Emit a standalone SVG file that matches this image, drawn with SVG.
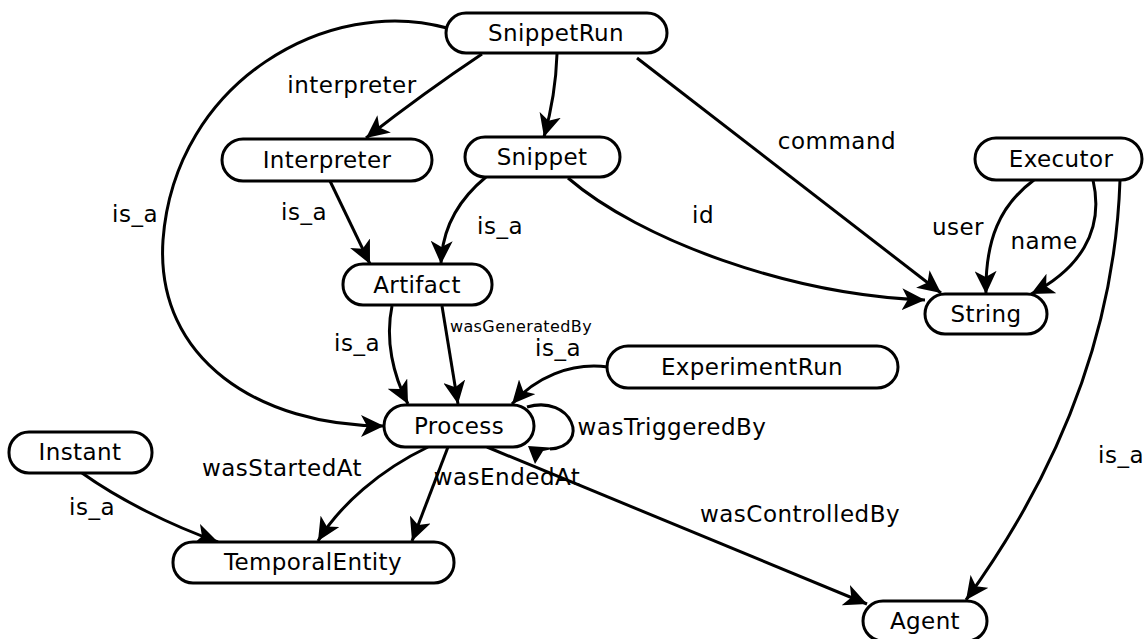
<svg xmlns="http://www.w3.org/2000/svg" width="1144" height="639" viewBox="0 0 1144 639">
  <style>
    .node rect { fill: #ffffff; stroke: #000000; stroke-width: 3; }
    .node text { font-family: "DejaVu Sans", sans-serif; font-size: 23px; letter-spacing: 0.4px; fill: #000000; text-anchor: middle; dominant-baseline: central; }
    .edges path { fill: none; stroke: #000000; stroke-width: 3; marker-end: url(#arrow); }
    .edges path.loop { marker-end: none; }
    .edges path.head { fill: #000000; stroke: none; marker-end: none; }
    .lbl { font-family: "DejaVu Sans", sans-serif; font-size: 23px; letter-spacing: 0.5px; fill: #000000; text-anchor: middle; dominant-baseline: central; }
    .small { font-size: 16px; letter-spacing: 0.4px; }
  </style>
  <defs>
    <marker id="arrow" markerUnits="userSpaceOnUse" markerWidth="24" markerHeight="22" refX="23" refY="11" orient="auto">
      <path d="M0,0 L23,11 L0,22 L6,11 z" fill="#000000"/>
    </marker>
  </defs>
  <rect width="1144" height="639" fill="#ffffff"/>

  <g class="edges">
    <path d="M482,54 Q425,92 366,138"/>
    <path d="M557,54 C556,85 551,112 544,137"/>
    <path d="M637,58 L941,293"/>
    <path d="M447,28 C330,-5 175,80 163,240 C155,360 260,426 384,426"/>
    <path d="M330,181 L370,264"/>
    <path d="M486,177 C458,200 442,230 441,264"/>
    <path d="M568,178 C640,240 790,295 925,300"/>
    <path d="M1034,180 C1000,205 985,240 986,294"/>
    <path d="M1093,180 C1105,232 1078,270 1031,294"/>
    <path d="M1120,180 C1115,330 1060,470 966,600"/>
    <path d="M392,306 C385,340 393,375 408,404"/>
    <path d="M442,306 L458,404"/>
    <path d="M608,367 C570,362 535,378 512,404"/>
    <!-- self loop on Process with its head drawn at the lower rim -->
    <path class="loop" d="M527,407 C572,394 592,446 550,449"/>
    <path class="head" d="M528,446 L557,448 L543,451 L535,464 z"/>
    <path d="M428,447 C380,470 340,505 318,541"/>
    <path d="M448,447 L412,541"/>
    <path d="M487,447 L867,604"/>
    <path d="M82,473 C120,500 170,525 218,542"/>
  </g>

  <g class="labels">
    <text class="lbl" x="352" y="85">interpreter</text>
    <text class="lbl" x="837" y="141">command</text>
    <text class="lbl" x="135" y="214">is_a</text>
    <text class="lbl" x="304" y="212">is_a</text>
    <text class="lbl" x="500" y="226">is_a</text>
    <text class="lbl" x="703" y="215">id</text>
    <text class="lbl" x="958" y="227">user</text>
    <text class="lbl" x="1044" y="241">name</text>
    <text class="lbl" x="1121" y="455">is_a</text>
    <text class="lbl" x="357" y="343">is_a</text>
    <text class="lbl small" x="521" y="326">wasGeneratedBy</text>
    <text class="lbl" x="558" y="348">is_a</text>
    <text class="lbl" x="672" y="427">wasTriggeredBy</text>
    <text class="lbl" x="282" y="468">wasStartedAt</text>
    <text class="lbl" x="507" y="477">wasEndedAt</text>
    <text class="lbl" x="800" y="514">wasControlledBy</text>
    <text class="lbl" x="92" y="507">is_a</text>
  </g>

  <g id="SnippetRun" class="node"><rect x="446" y="13" width="221" height="40" rx="20"/><text x="556" y="33">SnippetRun</text></g>
  <g id="Interpreter" class="node"><rect x="222" y="139" width="210" height="42" rx="21"/><text x="327" y="160">Interpreter</text></g>
  <g id="Snippet" class="node"><rect x="465" y="137" width="155" height="40" rx="20"/><text x="542" y="157">Snippet</text></g>
  <g id="Artifact" class="node"><rect x="343" y="264" width="149" height="41" rx="20"/><text x="417" y="285">Artifact</text></g>
  <g id="Process" class="node"><rect x="384" y="405" width="150" height="42" rx="21"/><text x="459" y="426">Process</text></g>
  <g id="ExperimentRun" class="node"><rect x="607" y="346" width="291" height="42" rx="21"/><text x="752" y="367">ExperimentRun</text></g>
  <g id="Executor" class="node"><rect x="975" y="138" width="167" height="42" rx="21"/><text x="1061" y="159">Executor</text></g>
  <g id="String" class="node"><rect x="925" y="294" width="122" height="40" rx="20"/><text x="986" y="314">String</text></g>
  <g id="Instant" class="node"><rect x="9" y="432" width="143" height="41" rx="20"/><text x="80" y="452">Instant</text></g>
  <g id="TemporalEntity" class="node"><rect x="173" y="542" width="281" height="41" rx="20"/><text x="313" y="562">TemporalEntity</text></g>
  <g id="Agent" class="node"><rect x="863" y="601" width="124" height="40" rx="20"/><text x="925" y="621">Agent</text></g>
</svg>
